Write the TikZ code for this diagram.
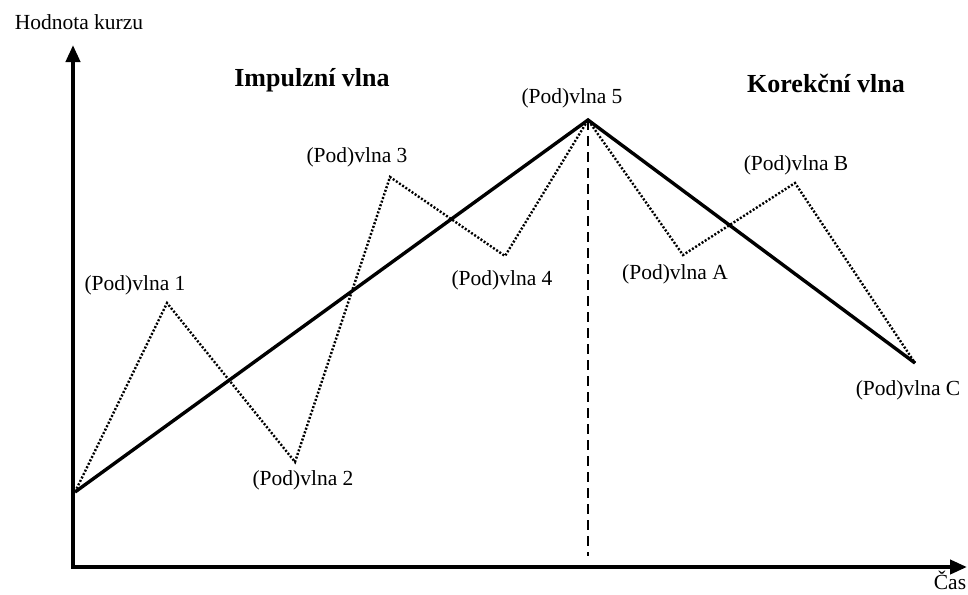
\documentclass[tikz,border=0pt]{standalone}
\usepackage{fontspec}
\setmainfont{Liberation Serif}
\usetikzlibrary{arrows.meta}

\tikzset{
	axis/.style={line width=4pt, -{Triangle[length=17pt,width=14pt]}},
	trend/.style={line width=3.4pt, line join=miter},
	subwave/.style={line width=2.4pt, dash pattern=on 2pt off 1.8pt},
	lbl/.style={font=\fontsize{21.5}{26}\selectfont, inner sep=0pt},
	heading/.style={font=\fontsize{26}{31}\selectfont\bfseries, inner sep=0pt}
}

\begin{document}
\begin{tikzpicture}[x=1pt, y=-1pt]
		% picture frame, same size as the reference (pixels -> pt)
		\useasboundingbox (0, 0) rectangle (968, 594);

		% axes
		\coordinate (origin) at (73, 567);
		\coordinate (ytop) at (73, 45);
		\coordinate (xend) at (967, 567);
		\draw[axis] ([xshift=-2pt]origin) -- (xend);
		\draw[axis] ([yshift=2pt]origin) -- (ytop);
		\node[lbl] (ylab) at (79, 22) {Hodnota kurzu};
		\node[lbl, anchor=base] (xlab) at (950, 589) {Čas};

		% turning points of the waves
		\coordinate (w0) at (75, 492);
		\coordinate (w1) at (167, 303);
		\coordinate (w2) at (295, 462);
		\coordinate (w3) at (390, 177);
		\coordinate (w4) at (505, 256);
		\coordinate (w5) at (588, 120);
		\coordinate (wA) at (683, 255);
		\coordinate (wB) at (795, 183);
		\coordinate (wC) at (915, 363);
		\coordinate (foot) at (588, 556);

		\draw[subwave] (w0) -- (w1) -- (w2) -- (w3) -- (w4) -- (w5) -- (wA) -- (wB) -- (wC);
		\draw[trend] (w0) -- (w5) -- (wC);
		\draw[line width=2.2pt, dash pattern=on 10pt off 6pt] (w5) -- (foot);

		% labels
		\node[lbl] (l1) at (135, 285) {(Pod)vlna 1};
		\node[lbl] (l2) at (303, 480) {(Pod)vlna 2};
		\node[lbl] (l3) at (357, 157) {(Pod)vlna 3};
		\node[lbl] (l4) at (502, 280) {(Pod)vlna 4};
		\node[lbl] (l5) at (572, 98) {(Pod)vlna 5};
		\node[lbl] (lA) at (675, 274) {(Pod)vlna A};
		\node[lbl] (lB) at (796, 165) {(Pod)vlna B};
		\node[lbl] (lC) at (908, 390) {(Pod)vlna C};

		\node[heading] (impuls) at (312, 80) {Impulzní vlna};
		\node[heading] (korekce) at (826, 83) {Korekční vlna};
	\end{tikzpicture}
\end{document}
